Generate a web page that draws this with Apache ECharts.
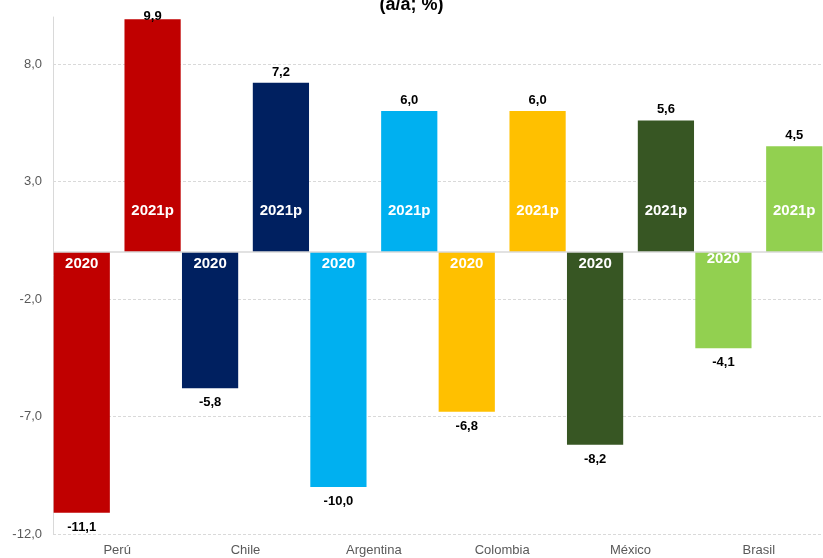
<!DOCTYPE html>
<html>
<head>
<meta charset="utf-8">
<script src="https://cdn.jsdelivr.net/npm/echarts@6/dist/echarts.min.js"></script>
<style>
  html, body { margin: 0; padding: 0; background: #ffffff; }
  #chart { width: 823px; height: 558px; }
</style>
</head>
<body>
<div id="chart"></div>
<script>
// GDP growth by country, year on year (%)
const categories = ['Perú', 'Chile', 'Argentina', 'Colombia', 'México', 'Brasil'];
const growth2020 = [-11.1, -5.8, -10.0, -6.8, -8.2, -4.1];
const growth2021p = [9.9, 7.2, 6.0, 6.0, 5.6, 4.5];
const seriesNames = ['2020', '2021p'];
const countryColors = ['#C00000', '#002060', '#00B0F0', '#FFC000', '#375623', '#92D050'];

// value axis range and step
const yMin = -12;
const yMax = 10;
const yStep = 5;

const FONT = 'Liberation Sans, Arial, sans-serif';
const fmt = v => v.toFixed(1).replace('.', ',');

// label distance tweaks for individual bars
const valueLabelDistance = { '2020': 8, '2021p': 4 };
const valueLabelOverride = { '2021p': { 0: -4 } };
const nameLabelOverride = { '2020': { 5: -1 } };

function barData(values, seriesName, withColor) {
  return values.map((v, i) => {
    const item = { value: v };
    if (withColor) item.itemStyle = { color: countryColors[i] };
    const nameOv = nameLabelOverride[seriesName];
    if (withColor && nameOv && nameOv[i] !== undefined) {
      item.label = { distance: nameOv[i] };
    }
    const valOv = valueLabelOverride[seriesName];
    if (!withColor && valOv && valOv[i] !== undefined) {
      item.label = { distance: valOv[i] };
    }
    return item;
  });
}

const barLayout = { barGap: '26%', barCategoryGap: '1%' };

const option = {
  backgroundColor: '#ffffff',
  animation: false,
  title: {
    text: '(a/a; %)',
    left: 'center',
    top: -9,
    textStyle: { fontFamily: FONT, fontSize: 18, fontWeight: 'bold', color: '#000000' }
  },
  grid: { left: 53, right: -7, top: 17, bottom: 24, containLabel: false },
  xAxis: [
    {
      type: 'category',
      data: categories,
      position: 'bottom',
      axisLine: { show: false, onZero: false },
      axisTick: { show: false },
      axisLabel: { color: '#595959', fontFamily: FONT, fontSize: 13, margin: 10 },
      splitLine: { show: false }
    },
    {
      type: 'category',
      data: categories,
      show: false,
      axisLine: { onZero: false }
    }
  ],
  yAxis: {
    type: 'value',
    min: yMin,
    max: yMax,
    interval: yStep,
    axisLine: { show: true, lineStyle: { color: '#d9d9d9', width: 1 } },
    axisTick: { show: false },
    axisLabel: {
      color: '#595959', fontFamily: FONT, fontSize: 13, margin: 11,
      showMaxLabel: false,
      formatter: v => fmt(v)
    },
    splitLine: {
      show: true,
      showMaxLine: false,
      lineStyle: { color: '#d9d9d9', type: [3, 2], width: 1 }
    }
  },
  series: [
    {
      name: seriesNames[0],
      type: 'bar',
      xAxisIndex: 0,
      ...barLayout,
      data: barData(growth2020, '2020', true),
      label: {
        show: true,
        position: 'insideTop',
        distance: 4,
        formatter: seriesNames[0],
        color: '#ffffff',
        fontFamily: FONT,
        fontSize: 15,
        fontWeight: 'bold'
      },
      markLine: {
        silent: true,
        symbol: ['none', 'none'],
        label: { show: false },
        lineStyle: { color: '#d9d9d9', type: 'solid', width: 1.5 },
        data: [{ yAxis: 0 }]
      }
    },
    {
      name: seriesNames[1],
      type: 'bar',
      xAxisIndex: 0,
      ...barLayout,
      data: barData(growth2021p, '2021p', true),
      label: {
        show: true,
        position: 'insideBottom',
        distance: 34,
        formatter: seriesNames[1],
        color: '#ffffff',
        fontFamily: FONT,
        fontSize: 15,
        fontWeight: 'bold'
      }
    },
    // value labels, laid out on a twin axis so they sit over the same bars
    {
      name: seriesNames[0] + ' valor',
      type: 'bar',
      xAxisIndex: 1,
      silent: true,
      ...barLayout,
      data: barData(growth2020, '2020', false),
      itemStyle: { color: 'rgba(0,0,0,0)' },
      label: {
        show: true,
        position: 'bottom',
        distance: valueLabelDistance['2020'],
        formatter: p => fmt(p.value),
        color: '#000000',
        fontFamily: FONT,
        fontSize: 13,
        fontWeight: 'bold'
      }
    },
    {
      name: seriesNames[1] + ' valor',
      type: 'bar',
      xAxisIndex: 1,
      silent: true,
      ...barLayout,
      data: barData(growth2021p, '2021p', false),
      itemStyle: { color: 'rgba(0,0,0,0)' },
      label: {
        show: true,
        position: 'top',
        distance: valueLabelDistance['2021p'],
        formatter: p => fmt(p.value),
        color: '#000000',
        fontFamily: FONT,
        fontSize: 13,
        fontWeight: 'bold'
      }
    }
  ]
};

const chart = echarts.init(document.getElementById('chart'), null, { renderer: 'canvas' });
chart.setOption(option);
</script>
</body>
</html>
